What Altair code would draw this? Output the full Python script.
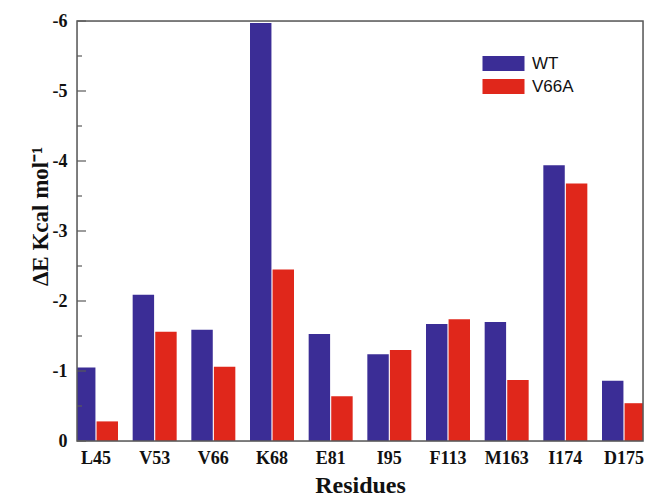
import altair as alt
import pandas as pd

residues = ["L45", "V53", "V66", "K68", "E81", "I95", "F113", "M163", "I174", "D175"]
wt = [-1.05, -2.09, -1.59, -5.97, -1.53, -1.24, -1.67, -1.70, -3.94, -0.86]
v66a = [-0.28, -1.56, -1.06, -2.45, -0.64, -1.30, -1.74, -0.87, -3.68, -0.54]
series = ["WT", "V66A"]
colors = ["#3b2d96", "#e0271b"]
major_ticks = [0, -1, -2, -3, -4, -5, -6]
minor_ticks = [-0.5, -1.5, -2.5, -3.5, -4.5, -5.5]

rows = []
for i, r in enumerate(residues):
    rows.append({"Residue": r, "Series": "WT", "dE": wt[i]})
    rows.append({"Residue": r, "Series": "V66A", "dE": v66a[i]})
df = pd.DataFrame(rows)

serif = "Liberation Serif"
frame_color = "#5a5a5a"
yscale = alt.Scale(domain=[-6, 0], reverse=True, nice=False, zero=True)
yaxis = alt.Axis(
    values=major_ticks, labelExpr="datum.value + ''", grid=False, ticks=False, domain=False,
    labelFont=serif, labelFontWeight="bold", labelFontSize=18, labelColor="#111",
    labelPadding=10,
    title="ΔE Kcal mol⁻¹", titleFont=serif, titleFontSize=23, titleFontWeight="bold",
    titleColor="#111", titleX=-30, titleY=195, titleAngle=-90, titleAlign="center",
    titleBaseline="alphabetic",
)

bars = alt.Chart(df).mark_bar(clip=True).encode(
    x=alt.X(
        "Residue:N",
        sort=residues,
        scale=alt.Scale(range=[-3, 569], paddingInner=0.25, paddingOuter=0),
        axis=alt.Axis(
            title="Residues", labelFont=serif, labelFontWeight="bold", labelFontSize=18,
            labelColor="#111", labelAngle=0, ticks=False, domain=False, labelPadding=8,
            titleFont=serif, titleFontSize=24, titleFontWeight="bold", titleColor="#111",
            titleY=51, titleBaseline="alphabetic",
        ),
    ),
    xOffset=alt.XOffset("Series:N", sort=series, scale=alt.Scale(paddingInner=0.05)),
    y=alt.Y("dE:Q", scale=yscale, axis=yaxis),
    color=alt.Color(
        "Series:N",
        sort=series,
        scale=alt.Scale(domain=series, range=colors),
        legend=alt.Legend(
            title=None, orient="none", legendX=416, legendY=32,
            symbolType="M-2,-0.72H2V0.72H-2Z", symbolSize=441, symbolStrokeWidth=0,
            symbolOpacity=1, labelFont="Liberation Sans", labelFontSize=17, labelColor="#111",
            labelOffset=18, padding=0, rowPadding=4,
        ),
    ),
)

major_df = pd.DataFrame({"v": major_ticks})
minor_df = pd.DataFrame({"v": minor_ticks})

ticks_major = alt.Chart(major_df).mark_rule(color=frame_color, strokeWidth=1.2).encode(
    y=alt.Y("v:Q", scale=yscale, axis=yaxis),
    x=alt.value(0),
    x2=alt.value(9),
)
ticks_minor = alt.Chart(minor_df).mark_rule(color=frame_color, strokeWidth=1.2).encode(
    y=alt.Y("v:Q", scale=yscale, axis=yaxis),
    x=alt.value(0),
    x2=alt.value(5),
)

frame = alt.Chart(pd.DataFrame({"f": [0]})).mark_rect(
    filled=False, stroke=frame_color, strokeWidth=1.5, fillOpacity=0
).encode(
    x=alt.value(0), x2=alt.value(566), y=alt.value(0), y2=alt.value(420)
)

chart = alt.layer(bars, ticks_major, ticks_minor, frame).properties(
    width=566,
    height=420,
    autosize="none",
    padding={"left": 77, "top": 21, "right": 5, "bottom": 55},
).configure_view(strokeWidth=0).configure(background="white")

chart.save("out.html", embed_options={"renderer": "svg", "actions": False})
